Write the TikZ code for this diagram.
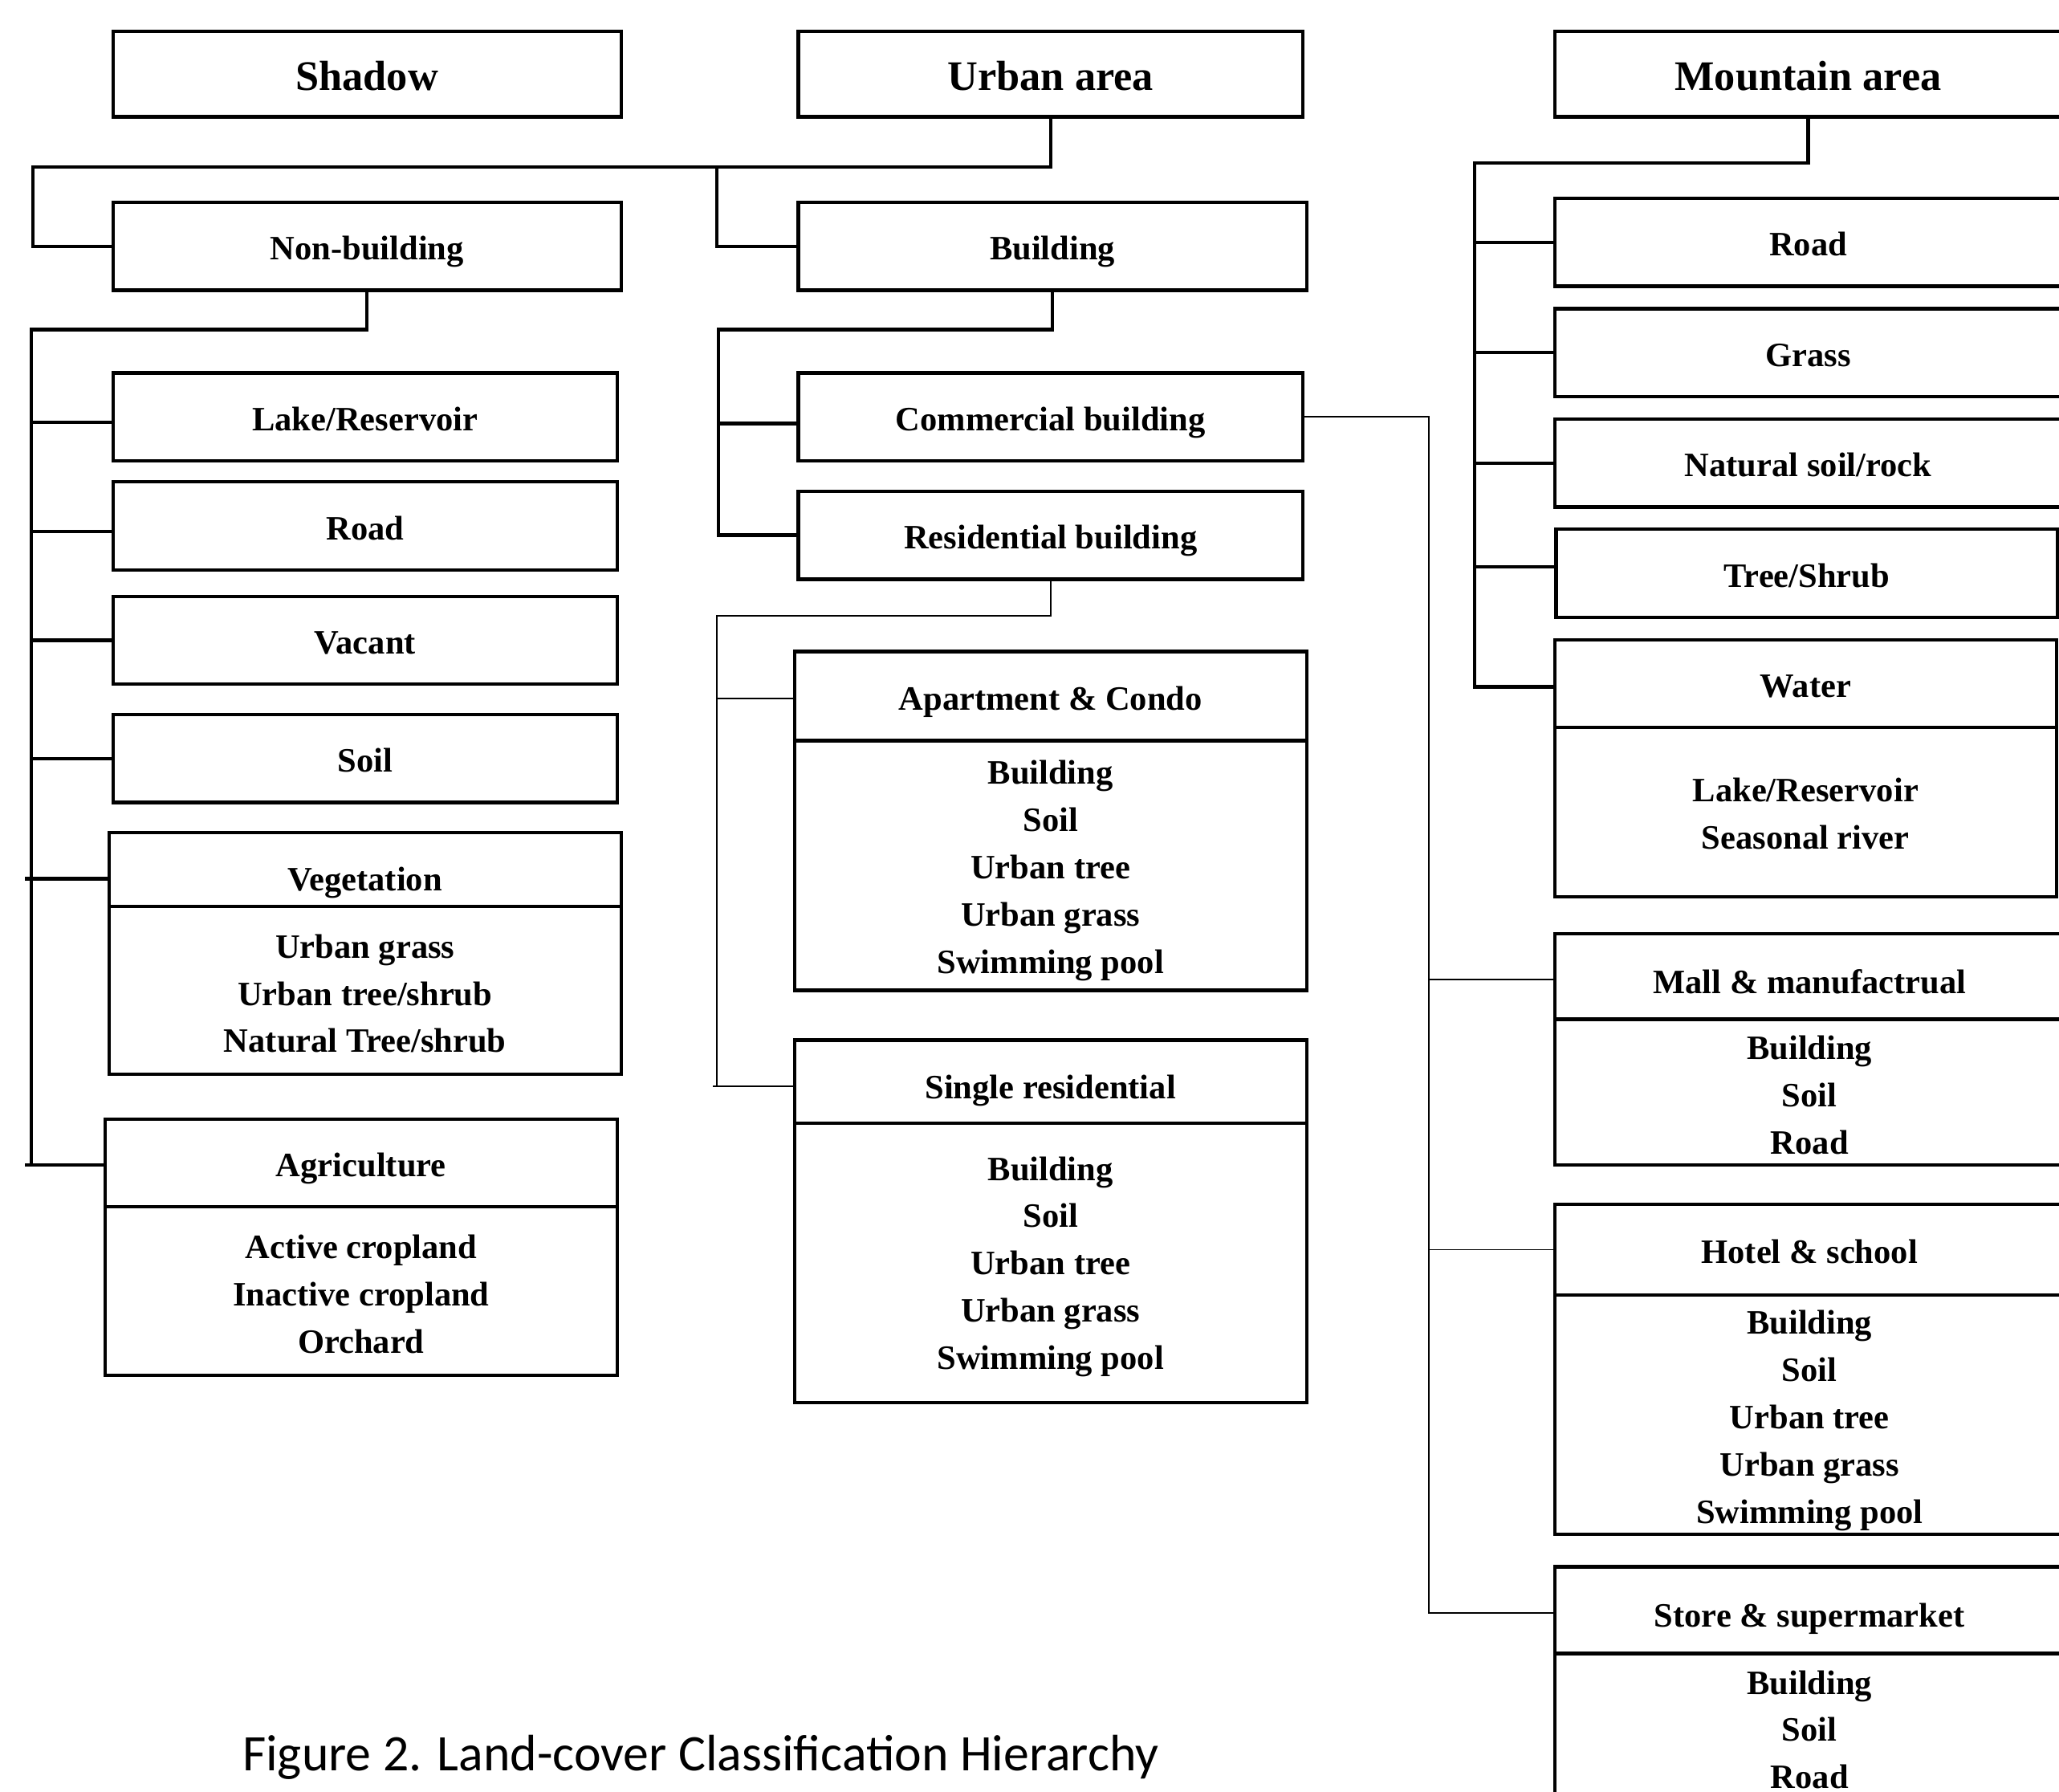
\documentclass[tikz,border=0pt]{standalone}
\usepackage{fontspec}
\usetikzlibrary{calc}
\setmainfont{Liberation Serif}
\newfontfamily\capfont{Carlito}
\begin{document}
\begin{tikzpicture}[x=1pt,y=-1pt,
  bx/.style={draw, line width=2.6pt, inner sep=0pt, align=center,
    font=\fontsize{26}{36}\selectfont\bfseries},
  one/.style={bx, text height=21pt, text depth=0pt},
  body/.style={draw, line width=2.6pt, inner sep=0pt},
  btxt/.style={inner sep=0pt, align=center, font=\fontsize{26}{36}\selectfont\bfseries},
  big/.style={bx, font=\fontsize{32}{38}\selectfont\bfseries, text height=24pt, text depth=0pt},
  thk/.style={line width=2.6pt},
  thn/.style={line width=1.1pt}]
\useasboundingbox (0,0) rectangle (1568,1364);

% ---- top level
\node[big, minimum width=387pt, minimum height=65pt] (shadow) at (279.5,56.5) {Shadow};
\node[big, minimum width=384pt, minimum height=65pt] (urban) at (800,56.5) {Urban area};
\node[big, minimum width=386pt, minimum height=65pt] (mtn) at (1377,56.5) {Mountain area};

% ---- second level
\node[one, minimum width=387pt, minimum height=67pt] (nonb) at (279.5,187.5) {Non-building};
\node[one, minimum width=387pt, minimum height=67pt] (bld) at (801.5,187.5) {Building};

% ---- left column
\node[one, minimum width=384pt, minimum height=67pt] (lake) at (278,317.5) {Lake/Reservoir};
\node[one, minimum width=384pt, minimum height=67pt] (lroad) at (278,400.5) {Road};
\node[one, minimum width=384pt, minimum height=67pt] (vac) at (278,487.5) {Vacant};
\node[one, minimum width=384pt, minimum height=67pt] (lsoil) at (278,577.5) {Soil};
\node[one, text height=33pt, minimum width=390pt, minimum height=56pt] (vegt) at (278,662) {Vegetation};
\node[body, minimum width=390pt, minimum height=128pt] (vegb) at (278,754) {};
\node[btxt] (vegx) at ($(vegb.center)+(0,2.5)$) {Urban grass\\Urban tree/shrub\\Natural Tree/shrub};
\node[one, minimum width=390pt, minimum height=67pt] (agt) at (275,885.5) {Agriculture};
\node[body, minimum width=390pt, minimum height=128pt] (agb) at (275,983) {};
\node[btxt] (agx) at ($(agb.center)+(0,2.5)$) {Active cropland\\Inactive cropland\\Orchard};

% ---- middle column
\node[one, minimum width=384pt, minimum height=67pt] (comm) at (800,317.5) {Commercial building};
\node[one, minimum width=384pt, minimum height=67pt] (res) at (800,407.5) {Residential building};
\node[one, minimum width=390pt, minimum height=68pt] (aptt) at (800,530) {Apartment \& Condo};
\node[body, minimum width=390pt, minimum height=190pt] (aptb) at (800,659) {};
\node[btxt] (aptx) at ($(aptb.center)+(0,4)$) {Building\\Soil\\Urban tree\\Urban grass\\Swimming pool};
\node[one, text height=26pt, minimum width=390pt, minimum height=63pt] (sglt) at (800,823.5) {Single residential};
\node[body, minimum width=390pt, minimum height=213pt] (sglb) at (800,961.5) {};
\node[btxt] (sglx) at ($(sglb.center)+(0,3)$) {Building\\Soil\\Urban tree\\Urban grass\\Swimming pool};

% ---- right column
\node[one, minimum width=386pt, minimum height=67pt] (rroad) at (1377,184.5) {Road};
\node[one, minimum width=386pt, minimum height=67pt] (grass) at (1377,268.5) {Grass};
\node[one, minimum width=386pt, minimum height=67pt] (nat) at (1377,352.5) {Natural soil/rock};
\node[one, minimum width=382pt, minimum height=67pt] (tree) at (1376,436.5) {Tree/Shrub};
\node[one, minimum width=382pt, minimum height=67pt] (watt) at (1375,520.5) {Water};
\node[body, minimum width=382pt, minimum height=129pt] (watb) at (1375,618.5) {};
\node[btxt] (watx) at ($(watb.center)+(0,1)$) {Lake/Reservoir\\Seasonal river};
\node[one, text height=26pt, minimum width=388pt, minimum height=65pt] (mallt) at (1378,743.5) {Mall \& manufactrual};
\node[body, minimum width=388pt, minimum height=111pt] (mallb) at (1378,831.5) {};
\node[btxt] (mallx) at ($(mallb.center)+(0,2.5)$) {Building\\Soil\\Road};
\node[one, minimum width=388pt, minimum height=69pt] (hott) at (1378,951.5) {Hotel \& school};
\node[body, minimum width=388pt, minimum height=182pt] (hotb) at (1378,1077) {};
\node[btxt] (hotx) at ($(hotb.center)+(0,4.5)$) {Building\\Soil\\Urban tree\\Urban grass\\Swimming pool};
\node[one, text height=25pt, minimum width=388pt, minimum height=66pt] (stot) at (1378,1226) {Store \& supermarket};
\node[body, minimum width=388pt, minimum height=111pt] (stob) at (1378,1314.5) {};
\node[btxt] (stox) at ($(stob.center)+(0,2.5)$) {Building\\Soil\\Road};

% ---- caption
\node[font=\capfont\fontsize{39}{45}\selectfont, anchor=base, inner sep=0pt] (cap) at (533.5,1348) {Figure 2. Land-cover Classification Hierarchy};

% ---- connectors: urban area
\coordinate (ub) at (25,127);
\coordinate (um) at (546,127);
\draw[thk] (urban.south) |- (ub) |- (nonb.west);
\draw[thk] (um) |- (bld.west);

% ---- non-building bus
\coordinate (lb) at (24,251);
\coordinate (vegj) at ($(vegt.west)+(0,7)$);
\coordinate (agj) at ($(agt.west)+(0,1.5)$);
\draw[thk] (nonb.south) |- (lb) |- (agj);
\draw[thk] (lb) |- ($(lake.west)+(0,4)$);
\draw[thk] (lb) |- ($(lroad.west)+(0,4)$);
\draw[thk] (lb) |- (vac.west);
\draw[thk] (lb) |- (lsoil.west);
\draw[thk] (lb) |- (vegj);
\draw[thk] (vegj) -- ++(-63,0);
\draw[thk] (agj) -- ++(-60,0);

% ---- building bus
\coordinate (mb) at (547,251);
\draw[thk] (bld.south) |- (mb) |- (res.west);
\draw[thk] (mb) |- ($(comm.west)+(0,5)$);

% ---- residential bus (thin)
\coordinate (rb) at (546,469);
\coordinate (sglj) at ($(sglt.west)+(0,3.5)$);
\draw[thn] (res.south) |- (rb) |- (sglj);
\draw[thn] (rb) |- ($(aptt.west)+(0,2)$);
\draw[thn] (sglj) -- ++(-61,0);

% ---- commercial bus (thin)
\coordinate (cb) at (1088,317.5);
\draw[thn] (comm.east) -- (cb) |- ($(stot.west)+(0,2)$);
\draw[thn] (cb) |- ($(mallt.west)+(0,2.5)$);
\draw[thn] (cb) |- (hott.west);

% ---- mountain bus
\coordinate (rb2) at (1123,124);
\draw[thk] (mtn.south) |- (rb2) |- ($(watt.west)+(0,2.5)$);
\draw[thk] (rb2) |- (rroad.west);
\draw[thk] (rb2) |- (grass.west);
\draw[thk] (rb2) |- (nat.west);
\draw[thk] (rb2) |- ($(tree.west)+(0,-5)$);
\end{tikzpicture}
\end{document}
